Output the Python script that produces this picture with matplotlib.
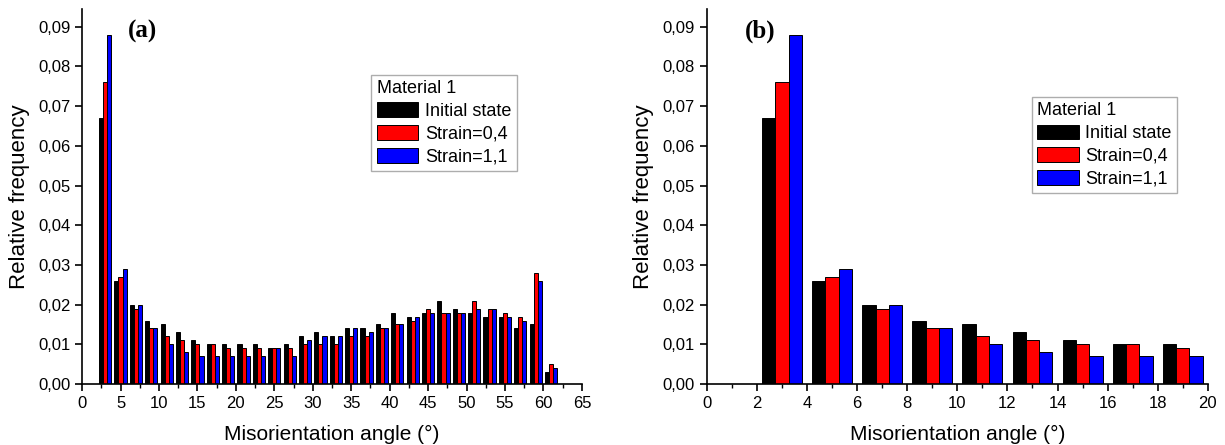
import matplotlib
matplotlib.use("Agg")
import matplotlib.pyplot as plt
from matplotlib.ticker import FuncFormatter, MultipleLocator
import numpy as np

plt.rcParams['font.family'] = ['Liberation Sans', 'DejaVu Sans']

# bin centres (degrees), bins of 2 degrees
angles = [3, 5, 7, 9, 11, 13, 15, 17, 19, 21, 23, 25, 27, 29, 31,
          33, 35, 37, 39, 41, 43, 45, 47, 49, 51, 53, 55, 57, 59, 61]
initial = [0.067, 0.026, 0.020, 0.016, 0.015, 0.013, 0.011, 0.010, 0.010, 0.010,
           0.010, 0.009, 0.010, 0.012, 0.013, 0.012, 0.014, 0.014, 0.015, 0.018,
           0.017, 0.018, 0.021, 0.019, 0.018, 0.017, 0.017, 0.014, 0.015, 0.003]
strain04 = [0.076, 0.027, 0.019, 0.014, 0.012, 0.011, 0.010, 0.010, 0.009, 0.009,
            0.009, 0.009, 0.009, 0.010, 0.010, 0.010, 0.012, 0.012, 0.014, 0.015,
            0.016, 0.019, 0.018, 0.018, 0.021, 0.019, 0.018, 0.017, 0.028, 0.005]
strain11 = [0.088, 0.029, 0.020, 0.014, 0.010, 0.008, 0.007, 0.007, 0.007, 0.007,
            0.007, 0.009, 0.007, 0.011, 0.012, 0.012, 0.014, 0.013, 0.014, 0.015,
            0.017, 0.018, 0.018, 0.018, 0.019, 0.019, 0.017, 0.016, 0.026, 0.004]
labels = ["Initial state", "Strain=0,4", "Strain=1,1"]
colors = ["black", "red", "blue"]

comma = FuncFormatter(lambda v, p: f"{v:.2f}".replace(".", ","))


def draw(ax, n, xmax, major, minor, tag, tag_x, legend_anchor):
    x = np.array(angles[:n])
    w = 0.53
    series = [initial[:n], strain04[:n], strain11[:n]]
    for i, (vals, c, lab) in enumerate(zip(series, colors, labels)):
        ax.bar(x + (i - 1) * w, vals, width=w, color=c, edgecolor="black",
               linewidth=0.7, label=lab)
    ax.set_xlim(0, xmax)
    ax.set_ylim(0, 0.0945)
    ax.xaxis.set_major_locator(MultipleLocator(major))
    ax.xaxis.set_minor_locator(MultipleLocator(minor))
    ax.yaxis.set_major_locator(MultipleLocator(0.01))
    ax.yaxis.set_major_formatter(comma)
    ax.spines["top"].set_visible(False)
    ax.spines["right"].set_visible(False)
    ax.spines["left"].set_linewidth(1.2)
    ax.spines["bottom"].set_linewidth(1.2)
    ax.tick_params(which="major", direction="out", length=5, width=1.2, labelsize=12)
    ax.tick_params(which="minor", direction="out", length=3, width=1.0)
    ax.set_xlabel("Misorientation angle (°)", fontsize=15, labelpad=10)
    ax.set_ylabel("Relative frequency", fontsize=16, labelpad=6)
    ax.text(tag_x, 0.94, tag, transform=ax.transAxes, fontsize=18,
            fontweight="bold", family="Liberation Serif", va="center")
    leg = ax.legend(title="Material 1", loc="upper left",
                    bbox_to_anchor=legend_anchor, fontsize=13,
                    title_fontsize=13, fancybox=False, edgecolor="#999999",
                    handlelength=2.3, handleheight=0.85, borderpad=0.3,
                    labelspacing=0.3, handletextpad=0.35, borderaxespad=0)
    leg._legend_box.align = "left"
    leg.get_frame().set_linewidth(1.0)


fig = plt.figure(figsize=(12.25, 4.45), dpi=100)
ax1 = fig.add_axes([0.067, 0.137, 0.408, 0.843])
ax2 = fig.add_axes([0.577, 0.137, 0.409, 0.843])

draw(ax1, 30, 65, 5, 2.5, "(a)", 0.092, (0.579, 0.825))
draw(ax2, 9, 20, 2, 1, "(b)", 0.076, (0.649, 0.766))

fig.savefig("out.png", dpi=100)
